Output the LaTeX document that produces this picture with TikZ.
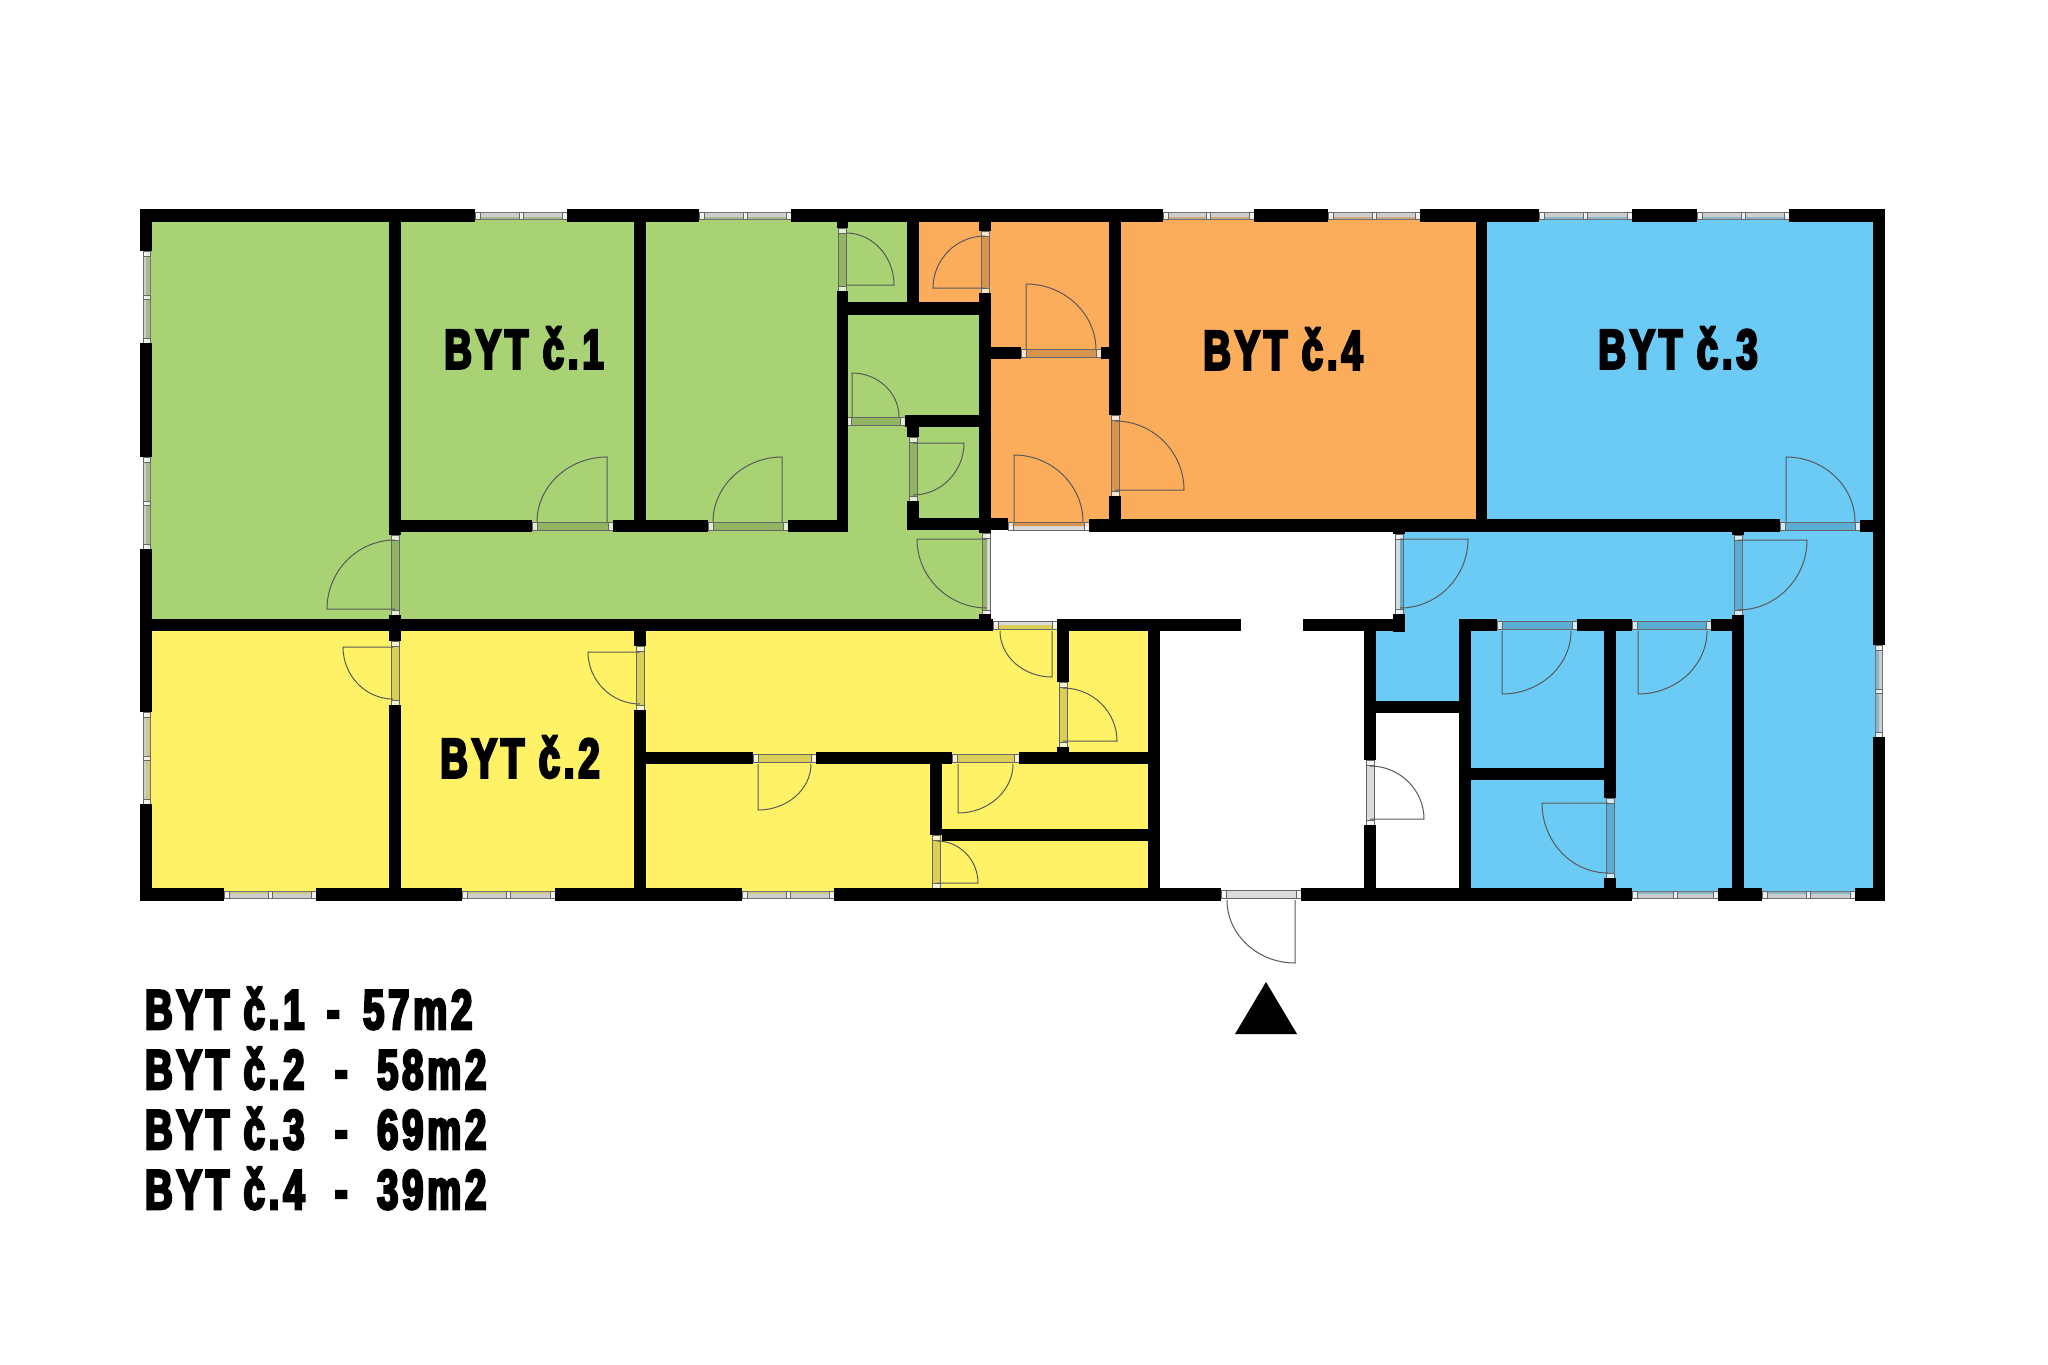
\documentclass[tikz,border=0pt]{standalone}
\usepackage{fontspec}
\usepackage{tikz}
\usetikzlibrary{calc}
\newfontfamily\bytfont{Liberation Sans Bold}[FakeStretch=0.68,LetterSpace=7,FakeBold=4.5]
\definecolor{bytgreen}{HTML}{A9D274}
\definecolor{bytorange}{HTML}{FCAD5C}
\definecolor{bytblue}{HTML}{6BCBF5}
\definecolor{bytyellow}{HTML}{FFF266}
\tikzset{
  wall/.style={fill=black},
  glass/.style={draw=black!55,line width=.8pt,fill=black!35,fill opacity=.55},
  leafglass/.style={draw=black!60,line width=.8pt,fill=black,fill opacity=.14},
  jamb/.style={draw=black!60,line width=.8pt,fill=white,fill opacity=.75},
  doorline/.style={draw=black!65,line width=1pt},
  roomlabel/.style={font=\bytfont\fontsize{56}{56}\selectfont,text=black,inner sep=0pt},
  arealabel/.style={font=\bytfont\fontsize{56}{56}\selectfont,text=black,inner sep=0pt,anchor=base west}
}
\newcommand\winh[3]{
  \draw[glass] (#1,#3-3.5) rectangle (#2,#3+3.5);
  \draw[jamb] (#1,#3-3.5) rectangle ++(5,7);
  \draw[jamb] (#2,#3-3.5) rectangle ++(-5,7);
  \draw[jamb] ({(#1+#2)/2-2},#3-3.5) rectangle ++(4,7);
}
\newcommand\winv[3]{
  \draw[glass] (#3-3.5,#1) rectangle (#3+3.5,#2);
  \draw[jamb] (#3-3.5,#1) rectangle ++(7,5);
  \draw[jamb] (#3-3.5,#2) rectangle ++(7,-5);
  \draw[jamb] (#3-3.5,{(#1+#2)/2-2}) rectangle ++(7,4);
}
\newcommand\doorh[3]{
  \draw[leafglass] (#1,#3-4) rectangle (#2,#3+4);
  \draw[jamb] (#1,#3-4) rectangle ++(5,8);
  \draw[jamb] (#2,#3-4) rectangle ++(-5,8);
}
\newcommand\doorv[3]{
  \draw[leafglass] (#3-4,#1) rectangle (#3+4,#2);
  \draw[jamb] (#3-4,#1) rectangle ++(8,5);
  \draw[jamb] (#3-4,#2) rectangle ++(8,-5);
}
\begin{document}
\begin{tikzpicture}[x=1pt,y=-1pt]
\useasboundingbox (0,0) rectangle (2048,1365);

\fill[bytgreen] (146,217)--(913,217)--(913,309)--(987,309)--(987,625)--(146,625)--cycle;
\fill[bytorange] (913,217)--(1481,217)--(1481,526)--(987,526)--(987,309)--(913,309)--cycle;
\fill[bytblue] (1481,217)--(1879,217)--(1879,894)--(1465,894)--(1465,707)--(1370,707)--(1370,625)--(1400,625)--(1400,526)--(1481,526)--cycle;
\fill[bytyellow] (146,625)--(1154,625)--(1154,894)--(146,894)--cycle;

\foreach \a/\b in {475/567,699/791,1163/1254,1328/1420,1539/1632,1697/1789}
  \winh{\a}{\b}{215.5};
\foreach \a/\b in {224/316,462/555,742/834,1632/1718,1762/1855}
  \winh{\a}{\b}{895};
\foreach \a/\b in {251/343,457/549,712/804}
  \winv{\a}{\b}{146.7};
\winv{645}{737}{1879};

\foreach \a/\b/\c in {532/613/526,708/788/526,846/905/421,1021/1101/353,1008/1089/526,1780/1860/526,1497/1577/625,1632/1711/625,1221/1301/894,753/816/758,952/1019/758,993/1057/625}
  \doorh{\a}{\b}{\c};
\foreach \a/\b/\c in {228/291/842,231/293/985,437/501/913,535/615/395,533/615/986,415/496/1115,534/614/1399,535/615/1738,798/878/1610,760/825/1370,641/705/395,646/710/640,835/888/936,682/747/1063}
  \doorv{\a}{\b}{\c};

\foreach \xa/\ya/\xb/\yb in {
  140/209/475/222, 567/209/699/222, 791/209/1163/222, 1254/209/1328/222, 1420/209/1539/222, 1632/209/1697/222, 1789/209/1885/222,
  140/209/152/251, 140/343/152/457, 140/549/152/712, 140/804/152/901,
  1873/209/1885/645, 1873/737/1885/901,
  140/888/224/901, 316/888/462/901, 555/888/742/901, 834/888/1221/901, 1301/888/1632/901, 1718/888/1762/901, 1855/888/1885/901,
  389/222/401/535, 389/615/401/641, 389/705/401/888,
  634/222/646/523, 634/631/646/646, 634/710/646/888,
  389/520/532/532, 613/520/708/532, 788/520/848/532,
  837/222/848/228, 837/291/848/532, 907/222/919/303, 837/302/991/315,
  979/222/991/231, 979/293/991/533, 979/614/991/630,
  905/415/979/427, 907/415/919/437, 907/501/919/530, 907/518/1008/530,
  991/347/1021/359, 1101/347/1109/359,
  1109/222/1121/415, 1109/496/1121/520, 1089/519/1780/532, 1860/520/1873/532,
  1476/222/1487/520, 1393/532/1405/534, 1393/614/1405/632, 1732/532/1744/535, 1732/615/1744/888,
  140/619/993/631, 1057/619/1241/631, 1303/619/1405/631,
  1148/631/1160/888, 1057/631/1069/682, 1057/747/1069/752, 1019/752/1148/764,
  646/752/753/764, 816/752/952/764, 930/764/942/835, 942/829/1148/841,
  1364/631/1376/760, 1364/825/1376/888, 1376/701/1459/713, 1459/619/1471/888,
  1459/619/1497/631, 1577/619/1632/631, 1711/619/1733/631,
  1604/631/1616/798, 1604/878/1616/888, 1471/768/1604/780}
  \fill[wall] (\xa,\ya) rectangle (\xb,\yb);

\foreach \hx/\hy/\ox/\oy/\tx/\ty in {
  607/522/537/522/607/457, 782/522/713/522/782/457, 846/285/846/233/894/285, 985/288/985/236/933/288,
  852/417/899/417/852/373, 913/443/913/495/964/443, 395/609/395/540/327/609, 987/539/987/608/917/539,
  1026/350/1096/350/1026/284, 1115/490/1115/421/1184/490, 1014/522/1083/522/1014/455,
  1786/522/1855/522/1786/457, 1400/539/1400/608/1468/539, 1738/540/1738/610/1807/540,
  1502/631/1571/631/1502/694, 1638/631/1707/631/1638/694, 1608/803/1608/873/1542/803,
  1370/819/1370/766/1424/819, 1295/900/1227/900/1295/963,
  393/647/393/699/343/647, 640/652/640/704/588/652, 758/764/811/764/758/810, 958/764/1013/764/958/813,
  937/883/937/841/978/883, 1052/631/1000/631/1052/677, 1063/741/1063/688/1117/741}
  \draw[doorline] (\hx,\hy) -- (\tx,\ty) .. controls ($(\tx,\ty)+.55*(\ox,\oy)-.55*(\hx,\hy)$) and ($(\ox,\oy)+.55*(\tx,\ty)-.55*(\hx,\hy)$) .. (\ox,\oy);

\fill (1266,982) -- (1297,1034) -- (1235,1034) -- cycle;

\node[roomlabel] (byt1) at (524,348) {BYT č.1};
\node[roomlabel] (byt2) at (520,757) {BYT č.2};
\node[roomlabel] (byt3) at (1678,348) {BYT č.3};
\node[roomlabel] (byt4) at (1283,349) {BYT č.4};

\node[arealabel] (area1) at (145,1029) {BYT č.1\hspace{8pt} - \hspace{9pt}57m2};
\node[arealabel] (area2) at (145,1089) {BYT č.2\hspace{16pt} - \hspace{15pt}58m2};
\node[arealabel] (area3) at (145,1149) {BYT č.3\hspace{16pt} - \hspace{15pt}69m2};
\node[arealabel] (area4) at (145,1209) {BYT č.4\hspace{16pt} - \hspace{15pt}39m2};

\end{tikzpicture}
\end{document}
